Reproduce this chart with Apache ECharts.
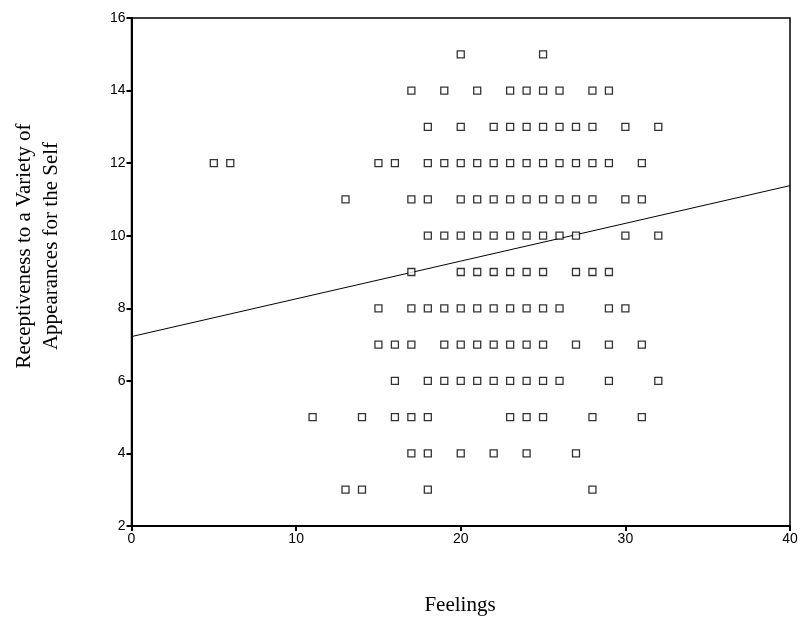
<!DOCTYPE html>
<html>
<head>
<meta charset="utf-8">
<script src="https://cdn.jsdelivr.net/npm/echarts@6/dist/echarts.min.js"></script>
<style>
html,body{margin:0;padding:0;background:#fff;}
#chart{width:806px;height:625px;}
</style>
</head>
<body>
<div id="chart"></div>
<script>
// Feelings (x) values observed at each receptiveness level (y)
const feelingsAtY15 = [20, 25];
const feelingsAtY14 = [17, 19, 21, 23, 24, 25, 26, 28, 29];
const feelingsAtY13 = [18, 20, 22, 23, 24, 25, 26, 27, 28, 30, 32];
const feelingsAtY12 = [5, 6, 15, 16, 18, 19, 20, 21, 22, 23, 24, 25, 26, 27, 28, 29, 31];
const feelingsAtY11 = [13, 17, 18, 20, 21, 22, 23, 24, 25, 26, 27, 28, 30, 31];
const feelingsAtY10 = [18, 19, 20, 21, 22, 23, 24, 25, 26, 27, 30, 32];
const feelingsAtY9  = [17, 20, 21, 22, 23, 24, 25, 27, 28, 29];
const feelingsAtY8  = [15, 17, 18, 19, 20, 21, 22, 23, 24, 25, 26, 29, 30];
const feelingsAtY7  = [15, 16, 17, 19, 20, 21, 22, 23, 24, 25, 27, 29, 31];
const feelingsAtY6  = [16, 18, 19, 20, 21, 22, 23, 24, 25, 26, 29, 32];
const feelingsAtY5  = [11, 14, 16, 17, 18, 23, 24, 25, 28, 31];
const feelingsAtY4  = [17, 18, 20, 22, 24, 27];
const feelingsAtY3  = [13, 14, 18, 28];

const levels = [15, 14, 13, 12, 11, 10, 9, 8, 7, 6, 5, 4, 3];
const rows = [feelingsAtY15, feelingsAtY14, feelingsAtY13, feelingsAtY12, feelingsAtY11,
  feelingsAtY10, feelingsAtY9, feelingsAtY8, feelingsAtY7, feelingsAtY6, feelingsAtY5,
  feelingsAtY4, feelingsAtY3];

// fit line endpoints
const fitX = [0, 40];
const fitY = [7.22, 11.38];

const xTicks = [0, 10, 20, 30, 40];
const yTicks = [2, 4, 6, 8, 10, 12, 14, 16];

const points = [];
rows.forEach((r, i) => r.forEach(x => points.push([x, levels[i]])));
const fitData = fitX.map((x, i) => [x, fitY[i]]);

const serifFont = '21px "Liberation Serif", "Times New Roman", serif';

const chart = echarts.init(document.getElementById('chart'), null, {renderer: 'canvas'});
chart.setOption({
  backgroundColor: '#ffffff',
  animation: false,
  grid: {left: 131.5, right: 16, top: 18, bottom: 99, show: true, borderColor: '#000', borderWidth: 1.5, backgroundColor: 'transparent'},
  xAxis: {
    type: 'value', min: xTicks[0], max: xTicks[xTicks.length - 1], interval: 10,
    axisLine: {show: true, onZero: false, lineStyle: {color: '#000', width: 2}},
    axisTick: {show: true, length: 5, inside: false, lineStyle: {color: '#000', width: 2}},
    axisLabel: {color: '#000', fontFamily: 'Liberation Sans, Arial, sans-serif', fontSize: 14, margin: 6},
    splitLine: {show: false}
  },
  yAxis: {
    type: 'value', min: yTicks[0], max: yTicks[yTicks.length - 1], interval: 2,
    axisLine: {show: true, onZero: false, lineStyle: {color: '#000', width: 2}},
    axisTick: {show: true, length: 5, inside: false, lineStyle: {color: '#000', width: 2}},
    axisLabel: {color: '#000', fontFamily: 'Liberation Sans, Arial, sans-serif', fontSize: 14, margin: 6},
    splitLine: {show: false}
  },
  graphic: [
    {type: 'text', silent: true, x: 460, y: 605,
      style: {text: 'Feelings', font: serifFont, fill: '#000', align: 'center', verticalAlign: 'middle'}
    },
    {type: 'text', silent: true, x: 24, y: 246, rotation: Math.PI / 2,
      style: {text: 'Receptiveness to a Variety of', font: serifFont, fill: '#000', align: 'center', verticalAlign: 'middle'}
    },
    {type: 'text', silent: true, x: 51, y: 246, rotation: Math.PI / 2,
      style: {text: 'Appearances for the Self', font: serifFont, fill: '#000', align: 'center', verticalAlign: 'middle'}
    }
  ],
  series: [
    {
      type: 'line', data: fitData, showSymbol: false, symbol: 'none',
      lineStyle: {color: '#000', width: 1}, z: 1
    },
    {
      type: 'scatter', data: points, symbol: 'rect', symbolSize: 7,
      itemStyle: {color: '#fff', borderColor: '#000', borderWidth: 1.3}, z: 2
    }
  ]
});
</script>
</body>
</html>
